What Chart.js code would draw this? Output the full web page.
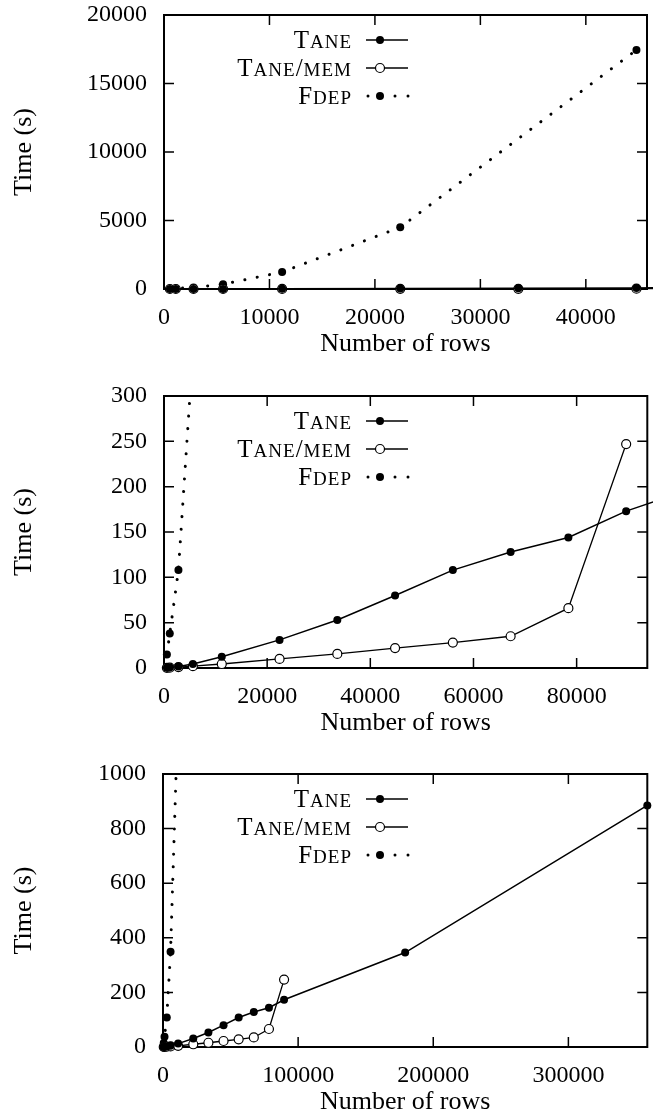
<!DOCTYPE html>
<html>
<head>
<meta charset="utf-8">
<script src="https://cdn.jsdelivr.net/npm/chart.js@4/dist/chart.umd.min.js"></script>
<style>
  html, body { margin: 0; padding: 0; background: #fff; }
  #wrap { position: relative; width: 653px; height: 1116px; overflow: hidden; }
  canvas { position: absolute; left: 0; }
</style>
</head>
<body>
<div id="wrap">
  <canvas id="c1" width="653" height="372" style="top:0px"></canvas>
  <canvas id="c2" width="653" height="372" style="top:381px"></canvas>
  <canvas id="c3" width="653" height="357" style="top:759px"></canvas>
</div>
<script>
// number of rows and running times (s)
const rows = [560, 1120, 2800, 5600, 11200, 22400, 33600, 44800, 56000, 67200, 78400, 89600, 179200, 358400];
const taneTimes = [0.3, 0.6, 1.6, 4.5, 12.5, 31, 53, 80, 108, 128, 144, 173, 346, 885];
const memRows = [560, 1120, 2800, 5600, 11200, 22400, 33600, 44800, 56000, 67200, 78400, 89600];
const taneMemTimes = [0.2, 0.4, 1.0, 2.0, 4.4, 10, 15.5, 22, 28, 35, 66, 247];
const fdepRows = [560, 1120, 2800, 5600, 11200, 22400, 44800];
const fdepTimes = [15, 38, 108, 349, 1240, 4500, 17450];

// tick labels of each panel
const xTicks1 = [0, 10000, 20000, 30000, 40000];
const yTicks1 = [0, 5000, 10000, 15000, 20000];
const xTicks2 = [0, 20000, 40000, 60000, 80000];
const yTicks2 = [0, 50, 100, 150, 200, 250, 300];
const xTicks3 = [0, 100000, 200000, 300000];
const yTicks3 = [0, 200, 400, 600, 800, 1000];

const legendLabels = ['Tane', 'Tane/mem', 'Fdep'];
const xTitle = 'Number of rows';
const yTitle = 'Time (s)';

// one entry per panel: axis ranges + where the frame sits inside its canvas
const panels = [
    { id: 'c1', xMax: 45800, yMax: 20000, xTicks: xTicks1, yTicks: yTicks1, left: 164, right: 647, top: 15, bottom: 289, height: 372 },
    { id: 'c2', xMax: 93700, yMax: 300, xTicks: xTicks2, yTicks: yTicks2, left: 164, right: 651, top: 15, bottom: 287, height: 372 },
    { id: 'c3', xMax: 358400, yMax: 1000, xTicks: xTicks3, yTicks: yTicks3, left: 163, right: 651, top: 15, bottom: 288, height: 357 },
];

const SERIF = "'Liberation Serif', 'Times New Roman', serif";
const toPoints = (xs, ys) => xs.map((x, i) => ({ x, y: ys[i] }));

// small caps drawn by hand: capitals full size, lower case as smaller capitals
const drawSmallCaps = (ctx, text, xRight, y) => {
    const big = `25px ${SERIF}`, small = `19px ${SERIF}`;
    const parts = [...text].map(ch => {
        const lower = ch !== ch.toUpperCase();
        return { s: lower ? ch.toUpperCase() : ch, font: lower ? small : big };
    });
    ctx.letterSpacing = '1px';
    let total = 0;
    parts.forEach(p => { ctx.font = p.font; p.w = ctx.measureText(p.s).width; total += p.w; });
    let x = xRight - total;
    ctx.textAlign = 'left';
    ctx.textBaseline = 'alphabetic';
    parts.forEach(p => { ctx.font = p.font; ctx.fillText(p.s, x, y + 8); x += p.w; });
    ctx.letterSpacing = '0px';
};

// frame edges taken from the scales themselves
const frameBox = (x, y) => ({
    left: x.getPixelForValue(x.min), right: x.getPixelForValue(x.max),
    top: y.getPixelForValue(y.max), bottom: y.getPixelForValue(y.min)
});

const gnuplotFrame = {
    id: 'gnuplotFrame',
    beforeDatasetsDraw(chart) {
        const { ctx, scales: { x, y } } = chart;
        const a = frameBox(x, y);
        ctx.save();
        ctx.strokeStyle = '#000';
        ctx.lineWidth = 1.5;
        ctx.beginPath();
        x.ticks.forEach(t => {
            const px = x.getPixelForValue(t.value);
            ctx.moveTo(px, a.bottom); ctx.lineTo(px, a.bottom - 10);
            ctx.moveTo(px, a.top); ctx.lineTo(px, a.top + 10);
        });
        y.ticks.forEach(t => {
            const py = y.getPixelForValue(t.value);
            ctx.moveTo(a.left, py); ctx.lineTo(a.left + 10, py);
            ctx.moveTo(a.right, py); ctx.lineTo(a.right - 10, py);
        });
        ctx.stroke();
        ctx.lineWidth = 2;
        ctx.strokeRect(a.left, a.top, a.right - a.left, a.bottom - a.top);
        ctx.restore();
    },
    afterDraw(chart) {
        const { ctx, scales: { x, y } } = chart;
        const a = frameBox(x, y);
        ctx.save();
        ctx.fillStyle = '#000';
        ctx.strokeStyle = '#000';
        legendLabels.forEach((label, i) => {
            const ly = a.top + 25 + i * 28;
            drawSmallCaps(ctx, label, 352, ly);
            if (i < 2) {
                ctx.lineWidth = 1.5;
                ctx.beginPath(); ctx.moveTo(366, ly); ctx.lineTo(408, ly); ctx.stroke();
                ctx.beginPath(); ctx.arc(380, ly, i === 0 ? 4 : 4.5, 0, Math.PI * 2);
                if (i === 0) ctx.fill(); else { ctx.fillStyle = '#fff'; ctx.fill(); ctx.lineWidth = 1.2; ctx.stroke(); ctx.fillStyle = '#000'; }
            } else {
                [368, 395, 408].forEach(dx => { ctx.beginPath(); ctx.arc(dx, ly, 1.5, 0, Math.PI * 2); ctx.fill(); });
                ctx.beginPath(); ctx.arc(380, ly, 4, 0, Math.PI * 2); ctx.fill();
            }
        });
        ctx.restore();
    }
};

const makeChart = (p) => {
    const tickFont = { family: SERIF, size: 24, lineHeight: 1 };
    const titleFont = { family: SERIF, size: 26, lineHeight: 1 };
    const clip = { left: 6, right: 6, top: 0, bottom: 6 };
    return new Chart(document.getElementById(p.id), {
        type: 'line',
        data: {
            datasets: [
                { label: legendLabels[0], data: toPoints(rows, taneTimes), borderColor: '#000', borderWidth: 1.5,
                  pointRadius: 4, pointBackgroundColor: '#000', pointBorderWidth: 0, clip },
                { label: legendLabels[1], data: toPoints(memRows, taneMemTimes), borderColor: '#000', borderWidth: 1.3,
                  pointRadius: 4.5, pointBackgroundColor: '#fff', pointBorderColor: '#000', pointBorderWidth: 1.2, clip },
                { label: legendLabels[2], data: toPoints(fdepRows, fdepTimes), borderColor: '#000', borderWidth: 3,
                  borderDash: [0.1, 12.5], borderCapStyle: 'round', pointRadius: 4, pointBackgroundColor: '#000', pointBorderWidth: 0, clip },
            ]
        },
        options: {
            responsive: false, animation: false, events: [],
            layout: { padding: { top: p.top, right: 653 - p.right, left: 0, bottom: 0 } },
            plugins: { legend: { display: false }, tooltip: { enabled: false } },
            scales: {
                x: {
                    type: 'linear', min: 0, max: p.xMax,
                    grid: { display: false, drawTicks: false }, border: { display: false },
                    ticks: { autoSkip: false, maxRotation: 0, padding: 17, color: '#000', font: tickFont, callback: v => String(v) },
                    afterBuildTicks: s => { s.ticks = p.xTicks.map(v => ({ value: v })); },
                    title: { display: true, text: xTitle, color: '#000', font: titleFont,
                             padding: { top: 0, bottom: p.height - (p.bottom + 55) - 13 } },
                    afterFit: s => { s.height = p.height - p.bottom; s.paddingLeft = 0; s.paddingRight = 0; }
                },
                y: {
                    type: 'linear', min: 0, max: p.yMax,
                    grid: { display: false, drawTicks: false }, border: { display: false },
                    ticks: { autoSkip: false, padding: 17, color: '#000', font: tickFont, callback: v => String(v) },
                    afterBuildTicks: s => { s.ticks = p.yTicks.map(v => ({ value: v })); },
                    title: { display: true, text: yTitle, color: '#000', font: titleFont, padding: { top: 11, bottom: 0 } },
                    afterFit: s => { s.width = p.left; s.paddingTop = 0; s.paddingBottom = 0; }
                }
            }
        },
        plugins: [gnuplotFrame]
    });
};

panels.forEach(makeChart);
</script>
</body>
</html>
